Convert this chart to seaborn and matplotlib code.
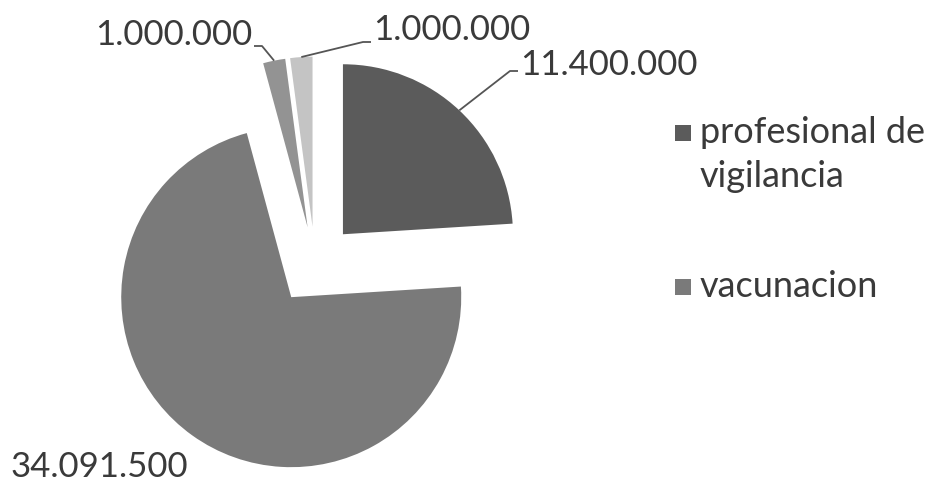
import matplotlib
matplotlib.use("Agg")
import matplotlib.pyplot as plt
from matplotlib.patches import Rectangle
import seaborn as sns
import numpy as np

# datos
categorias = ["profesional de vigilancia", "vacunacion", "otro 1", "otro 2"]
valores = [11400000, 34091500, 1000000, 1000000]
etiquetas = ["11.400.000", "34.091.500", "1.000.000", "1.000.000"]
colores = ["#5b5b5b", "#7a7a7a", "#939393", "#c4c4c4"]

sns.set_style("white")
plt.rcParams["font.family"] = ["Lato", "DejaVu Sans"]

fig = plt.figure(figsize=(9.37, 4.84), dpi=100)
ax = fig.add_axes([0, 0, 1, 1])

wedges, _ = ax.pie(valores, colors=colores, startangle=90, counterclock=False,
                   explode=[0.24, 0.24, 0.22, 0.22], radius=1.0,
                   wedgeprops=dict(linewidth=0))

# escala: 1 unidad = R pixeles, centro del pie en (cx, cy)
R = 170.0
cx, cy = 315, 264
ax.set_xlim(-cx / R, (937 - cx) / R)
ax.set_ylim(-(484 - cy) / R, cy / R)
ax.axis("off")


def px(x, y):
    return (x - cx) / R, (cy - y) / R


color_txt = "#3a3a3a"
# (x, baseline, alineacion, y de la linea guia) en pixeles
pos_txt = [(520, 75, "left", 71), (10, 477, "left", None),
           (252, 45, "right", 46), (373, 40, "left", 42)]
for w, lab, (x, yb, ha, yl) in zip(wedges, etiquetas, pos_txt):
    tx, ty = px(x, yb)
    ax.text(tx, ty, lab, fontsize=25, color=color_txt, ha=ha, va="baseline")
    if yl is None:
        continue
    ang = np.deg2rad((w.theta1 + w.theta2) / 2)
    ox, oy = w.center
    ex, ey = ox + np.cos(ang), oy + np.sin(ang)
    sgn = -1 if ha == "left" else 1
    lx0, ly = px(x + sgn * 2, yl)
    lx1, _ = px(x + sgn * 10, yl)
    ax.plot([ex, lx1, lx0], [ey, ly, ly], color="#555555", lw=1.3,
            solid_capstyle="butt")

# leyenda (solo las dos primeras entradas, como en el original)
ley = [(133, ["profesional de", "vigilancia"]), (287, ["vacunacion"])]
for (yc, lineas), col in zip(ley, colores[:2]):
    x0, y0 = px(675, yc + 8)
    ax.add_patch(Rectangle((x0, y0), 16 / R, 16 / R, facecolor=col,
                           edgecolor="none"))
    for i, linea in enumerate(lineas):
        tx, ty = px(700, yc + 10 + i * 44)
        ax.text(tx, ty, linea, fontsize=26, color=color_txt, ha="left",
                va="baseline")

fig.savefig("out.png", dpi=100)
